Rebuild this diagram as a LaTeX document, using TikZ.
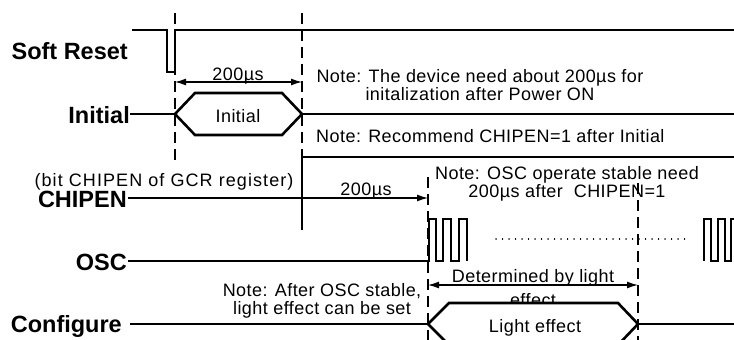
\documentclass[tikz,border=0pt]{standalone}
\usepackage{fontspec}
\setmainfont{Liberation Sans}
\usetikzlibrary{arrows.meta}
\tikzset{
  signal/.style={line width=2.6pt},
  guide/.style={line width=1.8pt, dash pattern=on 11pt off 6pt},
  span/.style={line width=1.3pt, {Latex[length=11pt,width=7pt]}-{Latex[length=11pt,width=7pt]}},
  dotrow/.style={line width=1.4pt, line cap=round, dash pattern=on 0.1pt off 6.4pt},
  siglabel/.style={anchor=base east, inner sep=0pt, font=\bfseries\fontsize{23.5}{25}\selectfont},
  note/.style={inner sep=0pt, align=center, font=\fontsize{18}{18}\selectfont\addfontfeatures{LetterSpace=2.5}},
  busbox/.style={line width=2.6pt, fill=white}
}
\begin{document}
\begin{tikzpicture}[x=1pt,y=-1pt]
  \useasboundingbox (0,0) rectangle (734,340);
  \clip (0,0) rectangle (734,340);

  % signal names
  \node[siglabel] (reset) at (128,59) {Soft Reset};
  \node[siglabel] (init) at (130,123) {Initial};
  \node[siglabel] (chipen) at (127,207) {CHIPEN};
  \node[siglabel] (osc) at (127,270) {OSC};
  \node[siglabel] (config) at (122,332) {Configure};
  \node[note, anchor=base, font=\fontsize{18}{18}\selectfont\addfontfeatures{LetterSpace=6}] (gcr) at (164,186) {(bit CHIPEN of GCR register)};

  % Soft Reset
  \draw[signal] (132,30) -- (167,30) -- (167,72) -- (175,72) -- (175,30) -- (734,30);

  % Initial
  \draw[signal] (130,114) -- (175,114);
  \draw[busbox] (175,114) -- (195,93) -- (282,93) -- (302,114) -- (282,135) -- (195,135) -- cycle;
  \draw[signal] (302,114) -- (734,114);
  \node[note, anchor=base] (initbox) at (238,122) {Initial};

  % CHIPEN
  \draw[signal] (128,198) -- (302,198);
  \draw[signal] (302,230) -- (302,157) -- (734,157);

  % OSC
  \draw[signal] (128,261) -- (429,261) -- (429,219) -- (436,219) -- (436,261)
    -- (443,261) -- (443,219) -- (451,219) -- (451,261) -- (459,261)
    -- (459,219) -- (467,219) -- (467,261);
  \draw[signal] (704,261) -- (704,219) -- (711,219) -- (711,261) -- (718,261)
    -- (718,219) -- (725,219) -- (725,261) -- (731,261) -- (731,219) -- (740,219);
  \coordinate (dots0) at (496,239);
  \coordinate (dots1) at (688,239);
  \draw[dotrow] (dots0) -- (dots1);

  % Configure
  \node[note, anchor=base, font=\fontsize{18}{24}\selectfont\addfontfeatures{LetterSpace=2.5}] (lightlen) at (533,306) {Determined by light\\effect};
  \draw[signal] (130,324) -- (428,324);
  \draw[busbox] (428,324) -- (449,303) -- (618,303) -- (638,324) -- (618,345) -- (449,345) -- cycle;
  \draw[signal] (638,324) -- (734,324);
  \node[note, anchor=base] (lightbox) at (535,332) {Light effect};

  % time marks
  \coordinate (t1top) at (175,13); \coordinate (t1bot) at (175,160);
  \coordinate (t2top) at (302,13); \coordinate (t2bot) at (302,157);
  \coordinate (t3top) at (428,177); \coordinate (t3bot) at (428,345);
  \coordinate (t4top) at (638,183); \coordinate (t4bot) at (638,345);
  \draw[guide] (t1top) -- (t1bot);
  \draw[guide] (t2top) -- (t2bot);
  \draw[guide] (t3top) -- (t3bot);
  \draw[guide] (t4top) -- (t4bot);

  % intervals
  \coordinate (d1a) at (175,82); \coordinate (d1b) at (302,82);
  \coordinate (d2a) at (302,198); \coordinate (d2b) at (428,198);
  \coordinate (d3a) at (428,285); \coordinate (d3b) at (638,285);
  \draw[span] (d1a) -- (d1b);
  \draw[span, {-Latex[length=11pt,width=7pt]}] (d2a) -- (d2b);
  \draw[span] (d3a) -- (d3b);
  \node[note, anchor=base] (d1text) at (238,80) {200µs};
  \node[note, anchor=base] (d2text) at (366,195) {200µs};

  % notes
  \node[note, anchor=base] (note1) at (480,100) {Note: The device need about 200µs for\\initalization after Power ON};
  \node[note, anchor=base west] (note2) at (316,142) {Note: Recommend CHIPEN=1 after Initial};
  \node[note, anchor=base] (note3) at (567,197) {Note: OSC operate stable need\\200µs after\ \ CHIPEN=1};
  \node[note, anchor=base] (note4) at (322,314) {Note: After OSC stable,\\light effect can be set};
\end{tikzpicture}
\end{document}
